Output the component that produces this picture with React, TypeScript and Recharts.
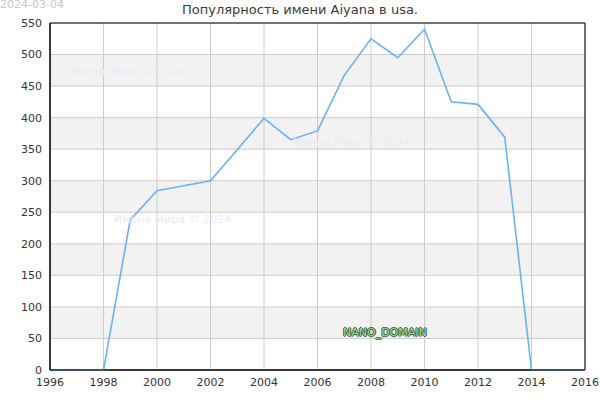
import {
  LineChart,
  Line,
  XAxis,
  YAxis,
  CartesianGrid,
  ReferenceArea,
} from 'recharts';

const years = [
  1996, 1997, 1998, 1999, 2000, 2001, 2002, 2003, 2004, 2005, 2006,
  2007, 2008, 2009, 2010, 2011, 2012, 2013, 2014, 2015, 2016,
];
const counts = [
  0, 0, 0, 238, 284, 292, 300, 349, 399, 365, 379,
  467, 525, 495, 540, 425, 421, 369, 0, 0, 0,
];
const xTicks = [1996, 1998, 2000, 2002, 2004, 2006, 2008, 2010, 2012, 2014, 2016];
const yTicks = [0, 50, 100, 150, 200, 250, 300, 350, 400, 450, 500, 550];

const TITLE = 'Популярность имени Aiyana в usa.';
const DATE_LABEL = '2024-03-04';
const WATERMARK = 'Имена Мира © 2024';
const WATERMARK_SPOTS = [
  { left: 68, top: 65 },
  { left: 293, top: 136 },
  { left: 114, top: 213 },
];

const FONT = '"DejaVu Sans", sans-serif';

export default function App() {
  const data = years.map((y, i) => ({ year: y, count: counts[i] }));
  const tick = { fontFamily: FONT, fontSize: 11, fill: '#333' };

  return (
    <div
      style={{
        position: 'absolute',
        left: 0,
        top: 0,
        width: 600,
        height: 400,
        background: '#fff',
        fontFamily: FONT,
      }}
    >
      <LineChart
        width={600}
        height={400}
        data={data}
        margin={{ top: 23, right: 15, bottom: 0, left: 0 }}
      >
        <CartesianGrid
          stroke="#cccccc"
          horizontalFill={['#ffffff', '#f2f2f2']}
          fillOpacity={1}
        />
        <XAxis
          dataKey="year"
          type="number"
          domain={[1996, 2016]}
          ticks={xTicks}
          tick={tick}
          tickLine={false}
          axisLine={{ stroke: '#000' }}
          height={30}
          tickMargin={2}
        />
        <YAxis
          type="number"
          domain={[0, 550]}
          ticks={yTicks}
          tick={tick}
          tickLine={false}
          axisLine={{ stroke: '#000' }}
          width={50}
          tickMargin={2}
        />
        <ReferenceArea
          x1={1996}
          x2={2016}
          y1={0}
          y2={550}
          fill="none"
          stroke="#000"
          strokeOpacity={1}
          fillOpacity={0}
        />
        <Line
          type="linear"
          dataKey="count"
          stroke="#6cb0f4"
          strokeWidth={1.6}
          dot={false}
          isAnimationActive={false}
        />
      </LineChart>

      <div
        style={{
          position: 'absolute',
          left: 0,
          top: -1,
          fontSize: 11,
          lineHeight: '11px',
          color: '#c8c8c8',
        }}
      >
        {DATE_LABEL}
      </div>
      <div
        style={{
          position: 'absolute',
          left: 0,
          width: 600,
          top: 2,
          textAlign: 'center',
          fontSize: 13,
          color: '#3a3a3a',
        }}
      >
        {TITLE}
      </div>
      {WATERMARK_SPOTS.map((p, i) => (
        <div
          key={i}
          style={{
            position: 'absolute',
            left: p.left,
            top: p.top,
            fontSize: 11,
            color: '#ebebf8',
            whiteSpace: 'nowrap',
          }}
        >
          {WATERMARK}
        </div>
      ))}
      <div
        style={{
          position: 'absolute',
          left: 343,
          top: 326,
          fontSize: 11,
          color: '#a8d8a8',
          textShadow:
            '1px 0 0 #2f5f2f, -1px 0 0 #2f5f2f, 0 1px 0 #2f5f2f, 0 -1px 0 #2f5f2f',
          whiteSpace: 'nowrap',
        }}
      >
        NANO_DOMAIN
      </div>
    </div>
  );
}
